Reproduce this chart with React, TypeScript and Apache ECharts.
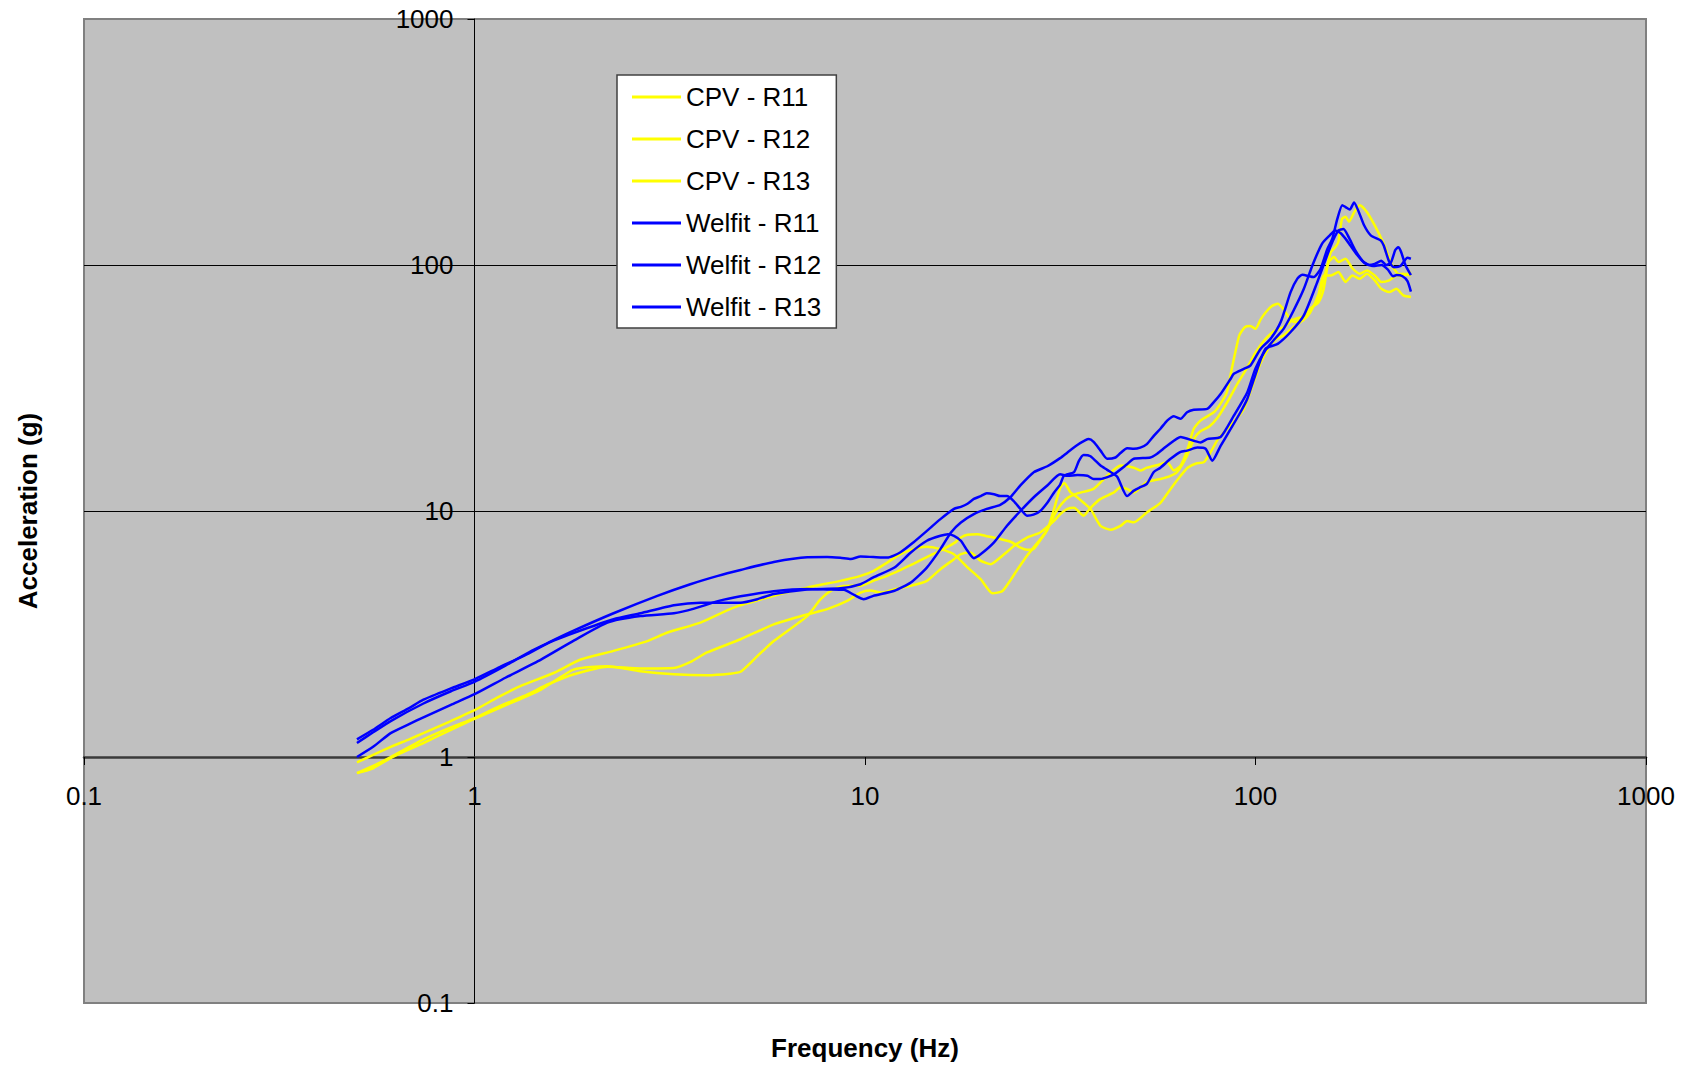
import React, { useEffect, useRef } from "react";
import * as echarts from "echarts";

// Decade ticks shared by both log axes
const decades = [0.1, 1, 10, 100, 1000];
const tickLabels = ["0.1", "1", "10", "100", "1000"];

const seriesNames = [
  "CPV - R11",
  "CPV - R12",
  "CPV - R13",
  "Welfit - R11",
  "Welfit - R12",
  "Welfit - R13",
];
const seriesColors = ["#FFFF00", "#FFFF00", "#FFFF00", "#0000FF", "#0000FF", "#0000FF"];

// [frequency (Hz), acceleration (g)]
const cpvR11: [number, number][] = [
  [0.5, 0.95], [0.55, 1.02], [0.61, 1.1], [0.68, 1.18], [0.74, 1.25], [0.87, 1.4], [1.0, 1.55],
  [1.15, 1.75], [1.31, 1.94], [1.6, 2.2], [1.87, 2.49], [2.27, 2.7], [2.77, 2.96], [3.11, 3.2],
  [3.79, 3.52], [4.61, 4.05], [5.84, 4.52], [7.11, 4.88], [8.65, 5.2], [9.74, 5.45], [10.5, 5.7],
  [11.4, 6.17], [12.3, 6.67], [13.3, 7.0], [14.4, 7.16], [15.6, 7.0], [16.9, 6.67], [18.3, 5.9],
  [19.8, 5.27], [21.2, 4.63], [22.5, 4.73], [24.6, 5.8], [26, 6.58], [28.1, 7.67], [29.3, 8.4],
  [30.5, 10.2], [31.6, 12.4], [32.4, 13.0], [33.6, 11.9], [34.9, 11.4], [36.3, 10.8], [37.8, 10.2],
  [40.1, 8.7], [42.6, 8.4], [45.1, 8.7], [46.9, 9.1], [48.8, 9.0], [52.7, 9.87], [57.1, 10.8],
  [60.6, 12.3], [64.3, 13.9], [67, 15.0], [70.5, 15.6], [73.8, 15.8], [77, 17.5], [80, 19.5],
  [83, 20.9], [88, 23], [93.3, 26], [98, 32], [103, 40], [108, 46], [113, 50], [118, 51.7],
  [125, 56], [133, 60], [138, 64], [145, 76], [149.5, 90.7], [156, 90.7], [163, 93.6], [170, 85.3],
  [177, 90.7], [185, 87.9], [193, 92.2], [202, 86.6], [210, 80], [220, 77.6], [229.5, 80],
  [239, 75.3], [250, 74.1],
];

const cpvR12: [number, number][] = [
  [0.5, 0.86], [0.55, 0.92], [0.61, 1.0], [0.74, 1.18], [0.87, 1.32], [1.0, 1.44], [1.15, 1.6],
  [1.34, 1.77], [1.55, 1.98], [1.8, 2.17], [2.19, 2.33], [2.66, 2.29], [3.24, 2.3], [3.6, 2.45],
  [3.94, 2.66], [4.8, 3.01], [5.84, 3.46], [7.11, 3.8], [8.0, 3.99], [9.0, 4.31], [9.74, 4.66],
  [10.3, 4.75], [11, 4.66], [11.9, 4.81], [13.1, 4.96], [14.4, 5.2], [15.6, 5.8], [16.9, 6.37],
  [17.6, 6.68], [18.6, 6.78], [19.8, 6.27], [21, 6.08], [22.2, 6.47], [24.1, 7.22], [26, 7.8],
  [28.1, 8.18], [30.5, 9.13], [31.6, 9.7], [33, 10.2], [34.3, 10.3], [36.3, 9.57], [37.8, 10.3],
  [40.1, 11.2], [43.4, 11.9], [45.1, 12.5], [46.9, 12.3], [48.8, 11.9], [52.7, 13.1], [57.1, 13.5],
  [60.6, 13.9], [63, 14.4], [66.8, 16.8], [69.5, 19.6], [72, 21], [76, 22], [80, 24], [85, 28],
  [90, 33], [95, 38], [100, 44], [106, 50], [112, 54], [118, 56], [125, 60], [133, 62], [138, 66],
  [144, 71], [149.5, 88], [154, 102.8], [159, 107.8], [163, 102.8], [170, 106], [177, 97],
  [185, 92.2], [193, 95], [202, 90.7], [210, 85.3], [220, 86.6], [229.5, 90.7], [239, 92.2],
  [250, 90.7],
];

const cpvR13: [number, number][] = [
  [0.5, 0.86], [0.55, 0.9], [0.61, 0.99], [0.74, 1.14], [0.87, 1.29], [1.0, 1.43], [1.2, 1.62],
  [1.48, 1.88], [1.8, 2.27], [2.19, 2.34], [2.66, 2.23], [3.24, 2.17], [3.94, 2.15], [4.5, 2.18],
  [4.8, 2.22], [5.3, 2.57], [5.84, 2.96], [7.11, 3.74], [7.7, 4.38], [8.3, 4.81], [8.8, 4.96],
  [9.74, 4.97], [10.5, 5.2], [11.4, 5.45], [12.3, 5.75], [13.3, 6.1], [14.4, 6.5], [15.6, 6.9],
  [16.9, 7.4], [17.6, 7.8], [18.3, 8.0], [19.4, 8.05], [20.5, 7.9], [22.2, 7.7], [23.6, 7.5],
  [25, 7.1], [26, 6.95], [27, 7.0], [28.1, 7.6], [29.3, 8.4], [30.5, 9.6], [31.6, 10.5], [33, 11.3],
  [35, 11.8], [38.5, 12.3], [41.7, 13.9], [45.1, 15.3], [48.8, 15], [50.7, 14.6], [52.7, 15],
  [57.1, 15.5], [59.4, 15.8], [61.8, 14.6], [64.3, 15.3], [66.8, 17.6], [69.5, 21.6], [72.3, 23.3],
  [78.2, 25.2], [81, 27], [84.5, 30.4], [87, 38], [89, 45], [91, 52], [94, 56], [97, 56.5],
  [100, 55], [103, 60], [106, 64], [110, 68], [114, 69.5], [118, 66], [122, 61], [126, 58.6],
  [130, 60], [135, 64], [139, 67], [145, 70.6], [149.5, 80], [153, 100], [156, 113], [160, 118],
  [163, 124], [166.5, 154], [170, 157], [173.5, 150], [179, 164], [185, 175], [193, 164],
  [202, 145], [210, 128], [216, 115], [220, 106], [225, 98], [229.5, 93.6], [235, 90], [240, 90.7],
  [245, 92], [250, 93.6],
];

const welfitR11: [number, number][] = [
  [0.5, 1.18], [0.55, 1.29], [0.61, 1.44], [0.68, 1.58], [0.74, 1.71], [0.87, 1.9], [1.0, 2.07],
  [1.16, 2.32], [1.36, 2.61], [1.57, 2.95], [1.8, 3.27], [2.27, 3.84], [2.94, 4.52], [3.57, 5.04],
  [4.2, 5.45], [4.8, 5.76], [5.84, 6.21], [7.11, 6.49], [8.0, 6.5], [8.65, 6.45], [9.2, 6.38],
  [9.74, 6.53], [10.5, 6.5], [11.4, 6.47], [12.3, 6.78], [13.3, 7.45], [14.4, 8.3], [15.6, 9.27],
  [16.9, 10.2], [17.6, 10.4], [18.3, 10.7], [19.0, 11.2], [19.8, 11.5], [20.5, 11.8], [21.4, 11.7],
  [22.2, 11.5], [23.1, 11.5], [24.0, 11.0], [25.0, 10.2], [26.0, 9.57], [27.0, 9.66], [28.1, 10.0],
  [29.3, 10.8], [30.5, 11.9], [31.6, 12.8], [32.3, 13.9], [34.3, 14.4], [35.3, 16.0], [36.3, 16.9],
  [37.8, 16.7], [40.1, 15.3], [41.7, 14.7], [44.2, 13.8], [46.9, 11.5], [48.8, 12.1], [50.7, 12.5],
  [52.7, 12.9], [54.9, 14.4], [57.1, 15.0], [60.6, 16.3], [64.3, 17.4], [66.8, 17.6], [70.9, 18.1],
  [74.5, 17.9], [77.5, 16.0], [81.4, 18.4], [86.3, 21.5], [91.5, 25.2], [95.3, 28.6], [99.1, 34.4],
  [106, 45.6], [114, 47.8], [123, 53.4], [133, 62.4], [144, 85.3], [156, 120], [163, 138],
  [168, 140], [174, 128], [180, 115], [188, 104], [195, 100], [202, 101], [210, 104], [216, 100],
  [222, 102], [228, 115], [232, 118], [236, 113], [242, 100], [250, 91],
];

const welfitR12: [number, number][] = [
  [0.5, 1.14], [0.55, 1.26], [0.61, 1.4], [0.74, 1.65], [0.87, 1.85], [1.0, 2.02], [1.2, 2.35],
  [1.4, 2.7], [1.6, 2.98], [1.8, 3.2], [2.27, 3.63], [2.66, 3.84], [3.24, 4.14], [3.79, 4.24],
  [4.3, 4.24], [4.8, 4.24], [5.3, 4.38], [5.84, 4.6], [7.1, 4.8], [8.65, 4.85], [9.74, 5.04],
  [10.5, 5.37], [11.9, 5.89], [13.1, 6.78], [14.4, 7.57], [15.6, 7.93], [16.3, 8.05], [16.9, 7.93],
  [17.6, 7.57], [18.3, 6.89], [19.0, 6.43], [19.8, 6.68], [21.4, 7.45], [23.1, 8.71], [25.0, 10.0],
  [27.1, 11.4], [29.3, 12.7], [31.6, 14.1], [33, 13.9], [35, 14.0], [37.1, 13.9], [38.5, 13.5],
  [40.1, 13.5], [43.4, 14.1], [46.9, 15.5], [48.8, 16.3], [53.8, 16.5], [56, 17.1], [59.4, 18.4],
  [64.3, 20], [69.5, 19.3], [72.3, 19.0], [75.2, 19.6], [81.4, 20], [88, 24.4], [95.3, 30.4],
  [100, 38], [106, 45], [112, 50], [118, 55], [125, 65], [133, 80], [140, 100], [148, 122],
  [155, 132], [160, 138], [165, 135], [170, 128], [175, 120], [182, 110], [190, 102], [200, 99],
  [210, 100], [218, 96], [225, 90], [230, 91], [238, 90], [245, 86], [250, 78],
];

const welfitR13: [number, number][] = [
  [0.5, 1.0], [0.55, 1.1], [0.61, 1.25], [0.68, 1.36], [0.74, 1.45], [0.87, 1.63], [1.0, 1.8],
  [1.2, 2.1], [1.48, 2.49], [1.8, 2.98], [2.19, 3.52], [2.66, 3.74], [3.24, 3.84], [3.65, 4.01],
  [4.2, 4.3], [4.8, 4.5], [5.84, 4.72], [7.1, 4.82], [8.0, 4.8], [8.83, 4.78], [9.4, 4.55],
  [9.93, 4.38], [10.5, 4.52], [11.9, 4.74], [13.1, 5.12], [14.4, 5.89], [15.6, 7.0], [16.6, 8.18],
  [17.6, 8.98], [19.0, 9.71], [20.5, 10.2], [22.2, 10.6], [23.6, 11.4], [25.0, 12.7], [27.1, 14.4],
  [29.3, 15.2], [31.6, 16.4], [33, 17.3], [34.9, 18.5], [36.7, 19.4], [37.4, 19.6], [38.5, 19.1],
  [40.1, 17.6], [41.7, 16.3], [43.8, 16.5], [45.1, 17.2], [46.9, 18.0], [48.8, 17.9], [50.7, 18.1],
  [52.7, 18.7], [54.9, 20.2], [57.1, 21.6], [59.4, 23.3], [61.8, 24.3], [64.3, 23.7], [66.8, 25.2],
  [69.5, 25.8], [75.2, 26], [78.2, 27.7], [81.4, 29.9], [86.3, 34.4], [88, 36.1], [93.3, 37.8],
  [97, 39], [103, 45.6], [109.3, 50.1], [116, 58.6], [123, 77.6], [128, 88], [131.8, 91.3],
  [141, 89.3], [146.8, 96.6], [152.7, 116], [157.3, 128], [162, 154], [166.8, 175], [170, 172],
  [174.4, 168], [178.8, 179.5], [184, 164], [189.7, 145], [197.3, 132], [209, 126], [213, 120],
  [220, 103], [226, 98], [235, 99], [245, 107], [250, 106],
];

const seriesData = [cpvR11, cpvR12, cpvR13, welfitR11, welfitR12, welfitR13];

const FONT = "'Liberation Sans', Arial, Helvetica, sans-serif";

function decadeLabel(v: number): string {
  const i = decades.findIndex((d) => Math.abs(Math.log10(d) - Math.log10(v)) < 1e-6);
  return i >= 0 ? tickLabels[i] : "";
}

export default function App() {
  const ref = useRef<HTMLDivElement>(null);

  useEffect(() => {
    if (!ref.current) return;
    const chart = echarts.init(ref.current, null, { renderer: "svg" });

    const plotLeft = 84;
    const plotTop = 19;
    const plotWidth = 1562;
    const plotHeight = 984;
    // pixel position of the value-axis crossing (x = 1 Hz, y = 1 g)
    const crossX = plotLeft + plotWidth / 4;
    const crossY = plotTop + (plotHeight * 3) / 4;

    const option: any = {
      animation: false,
      backgroundColor: "#ffffff",
      grid: [
        {
          left: plotLeft,
          top: plotTop,
          width: plotWidth,
          height: plotHeight,
          show: true,
          backgroundColor: "#c0c0c0",
          borderColor: "#808080",
          borderWidth: 2,
        },
        { left: crossX, top: plotTop, width: plotLeft + plotWidth - crossX, height: plotHeight, show: false },
        { left: plotLeft, top: plotTop, width: plotWidth, height: crossY - plotTop, show: false },
      ],
      xAxis: [
        {
          gridIndex: 0,
          type: "log",
          logBase: 10,
          min: 0.1,
          max: 1000,
          axisLine: { show: false },
          axisTick: { show: false },
          axisLabel: { show: false },
          splitLine: { show: false },
        },
        { gridIndex: 1, type: "value", min: 0, max: 1, show: false },
        {
          gridIndex: 2,
          type: "log",
          logBase: 10,
          min: 0.1,
          max: 1000,
          position: "bottom",
          axisLine: { show: true, onZero: false, lineStyle: { color: "#3a3a3a", width: 2.5 } },
          axisTick: { show: true, length: 8, lineStyle: { color: "#000", width: 1 } },
          axisLabel: {
            show: true,
            margin: 26,
            fontSize: 26,
            color: "#000",
            fontFamily: FONT,
            showMinLabel: true,
            showMaxLabel: true,
            formatter: (v: number) => decadeLabel(v),
          },
          splitLine: { show: false },
        },
      ],
      yAxis: [
        {
          gridIndex: 0,
          type: "log",
          logBase: 10,
          min: 0.1,
          max: 1000,
          axisLine: { show: false },
          axisTick: { show: false },
          axisLabel: { show: false },
          splitLine: {
            show: true,
            showMinLine: false,
            showMaxLine: false,
            lineStyle: { color: "#000", width: 1 },
          },
        },
        {
          gridIndex: 1,
          type: "log",
          logBase: 10,
          min: 0.1,
          max: 1000,
          position: "left",
          axisLine: { show: true, onZero: false, lineStyle: { color: "#000", width: 1 } },
          axisTick: { show: true, length: 7, lineStyle: { color: "#000", width: 1 } },
          axisLabel: {
            show: true,
            margin: 21,
            fontSize: 26,
            color: "#000",
            fontFamily: FONT,
            showMinLabel: true,
            showMaxLabel: true,
            formatter: (v: number) => decadeLabel(v),
          },
          splitLine: { show: false },
        },
        { gridIndex: 2, type: "value", min: 0, max: 1, show: false },
      ],
      legend: {
        orient: "vertical",
        left: 617,
        top: 75,
        padding: [7, 15, 6, 15],
        icon: "rect",
        itemWidth: 49,
        itemHeight: 3,
        itemGap: 12,
        backgroundColor: "#ffffff",
        borderColor: "#404040",
        borderWidth: 1.5,
        borderRadius: 0,
        selectedMode: false,
        textStyle: { fontSize: 26, color: "#000", fontFamily: FONT, lineHeight: 30 },
        data: seriesNames,
      },
      graphic: [
        {
          type: "text",
          x: plotLeft + plotWidth / 2,
          y: 1048,
          style: {
            text: "Frequency (Hz)",
            font: `bold 26px ${FONT}`,
            fill: "#000",
            textAlign: "center",
            textVerticalAlign: "middle",
            align: "center",
            verticalAlign: "middle",
          },
        },
        {
          type: "text",
          x: 28,
          y: plotTop + plotHeight / 2,
          rotation: Math.PI / 2,
          style: {
            text: "Acceleration (g)",
            font: `bold 26px ${FONT}`,
            fill: "#000",
            textAlign: "center",
            textVerticalAlign: "middle",
            align: "center",
            verticalAlign: "middle",
          },
        },
      ],
      series: seriesData.map((d, i) => ({
        name: seriesNames[i],
        type: "line",
        xAxisIndex: 0,
        yAxisIndex: 0,
        data: d,
        symbol: "none",
        showSymbol: false,
        smooth: 0.2,
        lineStyle: { color: seriesColors[i], width: 2.5 },
        itemStyle: { color: seriesColors[i] },
        z: 3,
      })),
    };

    chart.setOption(option);
    return () => chart.dispose();
  }, []);

  return (
    <div
      ref={ref}
      style={{ position: "absolute", left: 0, top: 0, width: 1689, height: 1069 }}
    />
  );
}
